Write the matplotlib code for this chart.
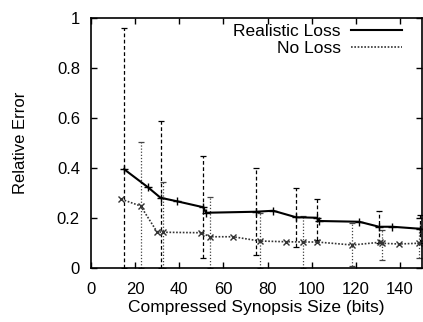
import matplotlib
matplotlib.use("Agg")
import matplotlib.pyplot as plt
import numpy as np
from matplotlib.lines import Line2D

plt.rcParams['font.family'] = ['Liberation Sans', 'DejaVu Sans']

# Realistic Loss series
real_x = [15, 25.8, 31.5, 38.9, 50.9, 52.1, 74.6, 82.6, 92.9, 102.4, 103.4, 121.6, 130.5, 136.6, 149]
real_y = [0.395, 0.323, 0.281, 0.267, 0.243, 0.221, 0.225, 0.229, 0.203, 0.201, 0.188, 0.185, 0.165, 0.165, 0.157]
# error bars (only drawn at some points)
real_err_x = [15, 31.5, 50.9, 74.6, 92.9, 102.4, 130.5, 149]
real_err_y = [0.395, 0.281, 0.243, 0.225, 0.203, 0.201, 0.165, 0.157]
real_err_lo = [0.0, 0.0, 0.041, 0.051, 0.085, 0.112, 0.099, 0.10]
real_err_hi = [0.96, 0.59, 0.448, 0.401, 0.321, 0.277, 0.228, 0.213]

# No Loss series
noloss_x = [13.8, 22.5, 29.9, 32.6, 49.9, 53.9, 64.4, 76.4, 88.4, 95.9, 102.4, 118.5, 131, 132, 139.5, 148.5]
noloss_y = [0.275, 0.248, 0.145, 0.143, 0.141, 0.125, 0.125, 0.108, 0.105, 0.104, 0.104, 0.092, 0.103, 0.099, 0.096, 0.099]
noloss_err_x = [22.5, 32.6, 53.9, 76.4, 95.9, 118.5, 132, 148.5]
noloss_err_y = [0.248, 0.143, 0.125, 0.108, 0.104, 0.092, 0.099, 0.099]
noloss_err_lo = [0.0, 0.0, 0.0, 0.0, 0.0, 0.008, 0.032, 0.04]
noloss_err_hi = [0.505, 0.343, 0.283, 0.219, 0.208, 0.179, 0.152, 0.16]

fig = plt.figure(figsize=(4.23, 3.22), dpi=100)
ax = fig.add_axes([91/423, 54/322, 331/423, 250/322])

# error bars
e1 = ax.errorbar(real_err_x, real_err_y,
                 yerr=[np.array(real_err_y) - np.array(real_err_lo),
                       np.array(real_err_hi) - np.array(real_err_y)],
                 fmt='none', ecolor='black', elinewidth=0.9, capsize=2, capthick=0.9)
e1[2][0].set_linestyle((0, (3, 2)))
e2 = ax.errorbar(noloss_err_x, noloss_err_y,
                 yerr=[np.array(noloss_err_y) - np.array(noloss_err_lo),
                       np.array(noloss_err_hi) - np.array(noloss_err_y)],
                 fmt='none', ecolor='#444444', elinewidth=0.9, capsize=2, capthick=0.9)
e2[2][0].set_linestyle((0, (1, 1.5)))

# lines
ax.plot(real_x, real_y, color='black', lw=1.5, marker='+', ms=6, mew=1.0)
ax.plot(noloss_x, noloss_y, color='#333333', lw=1.2, ls=(0, (1, 1)),
        marker='x', ms=5, mew=1.0)

ax.set_xlim(0, 150)
ax.set_ylim(0, 1)
ax.set_xticks(np.arange(0, 141, 20))
ax.set_yticks([0, 0.2, 0.4, 0.6, 0.8, 1.0])
ax.set_yticklabels(['0', '0.2', '0.4', '0.6', '0.8', '1'])
ax.tick_params(direction='in', top=True, right=True, length=4, width=1,
               labelsize=12)
ax.tick_params(axis='x', pad=10)
ax.tick_params(axis='y', pad=8)
for s in ax.spines.values():
    s.set_linewidth(1.2)

ax.set_xlabel('Compressed Synopsis Size (bits)', fontsize=12.5, labelpad=2)
ax.set_ylabel('Relative Error', fontsize=12, labelpad=21)

handles = [Line2D([], [], color='black', lw=1.5),
           Line2D([], [], color='#333333', lw=1.2, ls=(0, (1, 1)))]
ax.legend(handles, ['Realistic Loss', 'No Loss'], loc='upper right',
          bbox_to_anchor=(0.975, 1.025), frameon=False, markerfirst=False,
          fontsize=12.5, handlelength=2.9, handletextpad=0.6, labelspacing=0.12,
          borderaxespad=0.3)

fig.savefig('out.png', dpi=100)
